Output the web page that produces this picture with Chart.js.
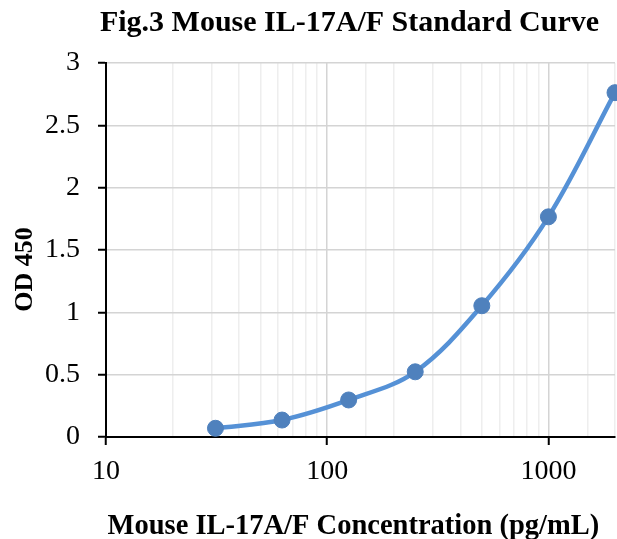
<!DOCTYPE html>
<html>
<head>
<meta charset="utf-8">
<script src="https://cdn.jsdelivr.net/npm/chart.js@4"></script>
<style>
html,body{margin:0;padding:0;background:#fff;}
#c{display:block;}
</style>
</head>
<body>
<canvas id="c" width="617" height="539"></canvas>
<script>
// Data
const concentrations = [31.25, 62.5, 125, 250, 500, 1000, 2000];
const od450 = [0.07, 0.136, 0.297, 0.523, 1.053, 1.766, 2.762];
const xTickLabels = [10, 100, 1000];
const yTickLabels = ['0', '0.5', '1', '1.5', '2', '2.5', '3'];
const titleText = 'Fig.3 Mouse IL-17A/F Standard Curve';
const xTitle = 'Mouse IL-17A/F Concentration (pg/mL)';
const yTitle = 'OD 450';

const serif = "'Liberation Serif', 'Times New Roman', serif";
const isDecade = v => Math.abs(Math.log10(v) - Math.round(Math.log10(v))) < 1e-9;

// Place the chart title centred where the reference has it
const titleShift = {
  id: 'titleShift',
  afterLayout(chart) {
    const tb = chart.titleBlock;
    if (tb) { tb.left += 42; tb.right += 42; }
  }
};

new Chart(document.getElementById('c'), {
  type: 'line',
  data: {
    datasets: [{
      data: concentrations.map((x, i) => ({x: x, y: od450[i]})),
      borderColor: '#5591d6',
      borderWidth: 4.5,
      backgroundColor: '#4f81bd',
      pointBackgroundColor: '#4f81bd',
      pointBorderColor: '#4f81bd',
      pointRadius: 8,
      pointBorderWidth: 1,
      tension: 0.35,
      fill: false,
      clip: false
    }]
  },
  plugins: [titleShift],
  options: {
    responsive: false,
    animation: false,
    layout: {autoPadding: false, padding: {left: 0, right: 2, top: 0, bottom: 0}},
    plugins: {
      legend: {display: false},
      tooltip: {enabled: false},
      title: {
        display: true,
        text: titleText,
        color: '#000',
        font: {family: serif, size: 30, weight: 'bold', lineHeight: 1.2},
        padding: {top: 5, bottom: 22}
      }
    },
    scales: {
      x: {
        type: 'logarithmic',
        min: 10,
        max: 2000,
        border: {display: true, color: '#000', width: 2},
        grid: {
          color: ctx => isDecade(ctx.tick.value) ? '#d4d4d4' : '#eeeeee',
          lineWidth: 1.5,
          tickColor: ctx => isDecade(ctx.tick.value) ? '#000' : 'rgba(0,0,0,0)',
          tickWidth: 2,
          tickLength: 8
        },
        ticks: {
          autoSkip: false,
          maxRotation: 0,
          color: '#000',
          padding: 10,
          font: {family: serif, size: 28},
          callback: v => xTickLabels.includes(v) ? String(v) : ''
        },
        title: {
          display: true,
          text: xTitle + '\u00a0\u00a0',
          color: '#000',
          font: {family: serif, size: 28.5, weight: 'bold', lineHeight: 0.8},
          padding: {top: 0, bottom: 1}
        },
        afterFit: s => { s.height = 102; s.paddingLeft = 0; s.paddingRight = 0; }
      },
      y: {
        type: 'linear',
        min: 0,
        max: 3,
        border: {display: true, color: '#000', width: 2},
        grid: {
          color: '#d4d4d4',
          lineWidth: 1.5,
          tickColor: '#000',
          tickWidth: 2,
          tickLength: 8
        },
        ticks: {
          stepSize: 0.5,
          color: '#000',
          padding: 18,
          font: {family: serif, size: 28},
          callback: (v, i) => yTickLabels[i]
        },
        title: {
          display: true,
          text: yTitle + '\u00a0\u00a0\u00a0\u00a0\u00a0\u00a0',
          color: '#000',
          font: {family: serif, size: 26, weight: 'bold', lineHeight: 1.2},
          padding: {top: 10, bottom: 0}
        },
        afterFit: s => { s.width = 106; }
      }
    }
  }
});
</script>
</body>
</html>
